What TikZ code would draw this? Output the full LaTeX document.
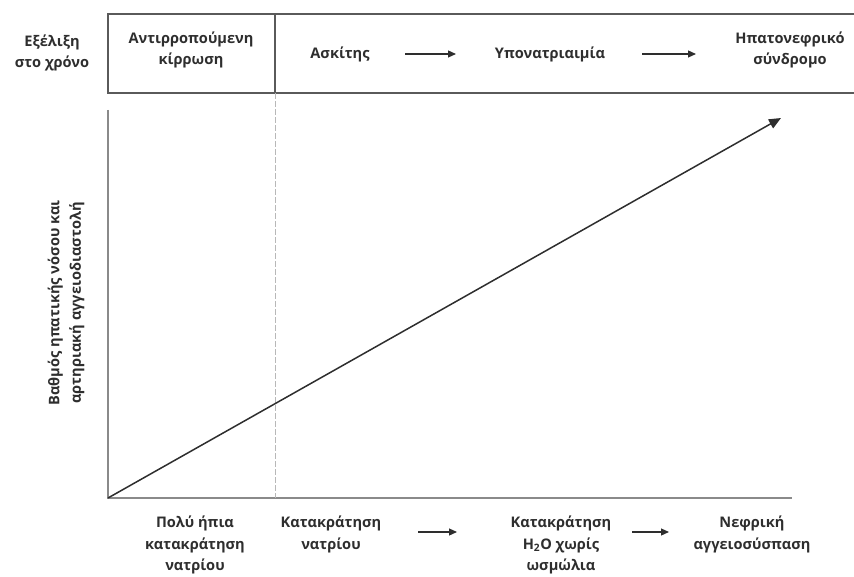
\documentclass[tikz,border=0pt]{standalone}
\usepackage{fontspec}
\setmainfont{Open Sans}
\usetikzlibrary{arrows.meta}
\definecolor{ink}{HTML}{2E2E2E}
\definecolor{frame}{HTML}{5A5A5A}
\definecolor{axis}{HTML}{8A8A8A}
\definecolor{guide}{HTML}{B8B8B8}
\begin{document}
\begin{tikzpicture}[x=1pt,y=-1pt,
  lbl/.style={font=\fontsize{14.6}{21.5}\selectfont\bfseries, text=ink, align=center, inner sep=0pt},
  flow/.style={-{Triangle[length=8pt,width=7pt]}, line width=1.2pt, draw=ink},
  trend/.style={-{Triangle[length=12pt,width=10pt]}, line width=1.5pt, draw=ink}]
\useasboundingbox (0,0) rectangle (854,577);
% top strip
\draw[frame, line width=1.2pt] (854,14) -- (108,14) -- (108,93) -- (854,93);
\draw[frame, line width=1.1pt] (275,14) -- (275,93);
% axes
\coordinate (O) at (108,498);
\coordinate (Ytop) at (108,110);
\coordinate (Xend) at (792,498);
\draw[axis, line width=1.2pt] (Ytop) -- (O) -- (Xend);
% stage boundary
\draw[guide, line width=1pt, dash pattern=on 6pt off 2pt] (275,93) -- (275,498);
% trend arrow
\coordinate (T) at (781,118);
\draw[trend] (O) -- (T);
% top labels
\node[lbl] (time) at (52,53) {Εξέλιξη\\στο χρόνο};
\node[lbl] (comp) at (191,50) {Αντιρροπούμενη\\κίρρωση};
\node[lbl] (asc) at (340,54) {Ασκίτης};
\node[lbl] (hypo) at (550,54) {Υπονατριαιμία};
\node[lbl] (hrs) at (790,50) {Ηπατονεφρικό\\σύνδρομο};
\coordinate (t1s) at (405,54); \coordinate (t1e) at (456,54);
\coordinate (t2s) at (642,54); \coordinate (t2e) at (696,54);
\draw[flow] (t1s) -- (t1e);
\draw[flow] (t2s) -- (t2e);
% vertical label
\node[lbl, rotate=90] (ylab) at (66,303) {Βαθμός ηπατικής νόσου και\\αρτηριακή αγγειοδιαστολή};
% bottom labels
\node[lbl, anchor=north] (mild) at (195,516) {Πολύ ήπια\\κατακράτηση\\νατρίου};
\node[lbl, anchor=north] (na) at (331,516) {Κατακράτηση\\νατρίου};
\node[lbl, anchor=north] (water) at (561,516) {Κατακράτηση\\H\textsubscript{2}O χωρίς\\ωσμώλια};
\node[lbl, anchor=north] (vaso) at (752,516) {Νεφρική\\αγγειοσύσπαση};
\coordinate (a1s) at (418,532); \coordinate (a1e) at (457,532);
\coordinate (a2s) at (632,532); \coordinate (a2e) at (669,532);
\draw[flow] (a1s) -- (a1e);
\draw[flow] (a2s) -- (a2e);
\end{tikzpicture}
\end{document}
